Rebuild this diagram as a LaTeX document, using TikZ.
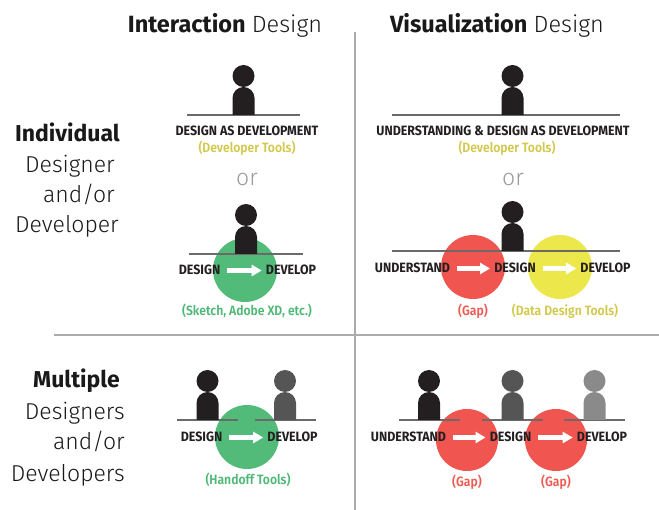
\documentclass[tikz,border=0pt]{standalone}
\usepackage{fontspec}
\setmainfont{Fira Sans}
\newfontfamily\lightfont{Fira Sans Light}
\newfontfamily\labelfont[FakeStretch=0.92]{Fira Sans Bold}
\newfontfamily\notefont[FakeStretch=0.9]{Fira Sans SemiBold}
\usetikzlibrary{arrows.meta,calc}
\definecolor{ink}{HTML}{231F20}
\definecolor{midperson}{HTML}{555555}
\definecolor{lightperson}{HTML}{8A8A8A}
\definecolor{baseline}{HTML}{6A6A6A}
\definecolor{divider}{HTML}{ABABAB}
\definecolor{ggreen}{HTML}{52BB7A}
\definecolor{gred}{HTML}{F0554F}
\definecolor{gyellow}{HTML}{ECE84C}
\definecolor{tyellow}{HTML}{D2C84A}
\definecolor{tgreen}{HTML}{4FB877}
\definecolor{tred}{HTML}{EF5A52}
\definecolor{orgray}{HTML}{9A9A9A}
\tikzset{
  heading/.style={anchor=base,inner sep=0pt,font=\fontsize{23.5}{28}\selectfont,text=black!90},
  rowbold/.style={anchor=base east,inner sep=0pt,font=\fontsize{23}{28}\selectfont\bfseries,text=black!90},
  rowlight/.style={anchor=base east,inner sep=0pt,font=\fontsize{23}{28}\selectfont\lightfont,text=black!90},
  steplabel/.style={anchor=base,inner sep=0pt,font=\fontsize{13.5}{16}\selectfont\labelfont,text=ink},
  toolnote/.style={anchor=base,inner sep=0pt,font=\fontsize{13.5}{16}\selectfont\notefont},
  ortext/.style={anchor=base,inner sep=0pt,font=\fontsize{23}{28}\selectfont\lightfont,text=orgray},
  blob/.style={fill=#1,draw=none},
  groundline/.style={draw=baseline,line width=2pt},
  flowarrow/.style={white,line width=5pt,-{Triangle[length=10pt,width=11pt]}},
  dividerline/.style={draw=divider,line width=1.5pt}
}
\newcommand{\personat}[3]{% x, line y, colour
  \fill[#3] (#1-11,#2) -- (#1-11,#2-17) arc (180:360:11) -- (#1+11,#2) -- cycle;
  \fill[#3] (#1,#2-39) circle (11);
}
\begin{document}
\begin{tikzpicture}[x=1pt,y=-1pt]
\useasboundingbox (0,0) rectangle (659,510);
% dividers
\draw[dividerline] (355,32) -- (355,510);
\draw[dividerline] (54,335) -- (659,335);
% headings
\node[heading] (hint) at (225,33) {\textbf{Interaction} {\lightfont Design}};
\node[heading] (hvis) at (497,33) {\textbf{Visualization} {\lightfont Design}};
% row labels
\node[rowbold] (r1a) at (120,142) {Individual};
\node[rowlight] (r1b) at (115,173) {Designer};
\node[rowlight] (r1c) at (115,203) {and/or};
\node[rowlight] (r1d) at (119,233) {Developer};
\node[rowbold] (r2a) at (120,388) {Multiple};
\node[rowlight] (r2b) at (125,420) {Designers};
\node[rowlight] (r2c) at (125,450) {and/or};
\node[rowlight] (r2d) at (125,482) {Developers};

% ===== Top-left =====
\draw[groundline] (187,115) -- (300,115);
\personat{243.5}{115}{ink}
\node[steplabel] (tl1) at (247,136) {DESIGN AS DEVELOPMENT};
\node[toolnote,text=tyellow] (tl2) at (247,153) {(Developer Tools)};
\node[ortext] (tlor) at (247,186) {or};

\fill[blob=ggreen] (245,270) circle (32);
\draw[groundline] (189,254) -- (303,254);
\personat{246}{254}{ink}
\node[steplabel] (tld) at (199.5,275) {DESIGN};
\node[steplabel] (tlv) at (291,275) {DEVELOP};
\draw[flowarrow] ($(tld.base east)+(7,-4.5)$) -- ($(tlv.base west)+(-4,-4.5)$);
\node[toolnote,text=tgreen] (tln) at (247,316) {(Sketch, Adobe XD, etc.)};

% ===== Top-right =====
\draw[groundline] (392,115) -- (620,115);
\personat{512.5}{115}{ink}
\node[steplabel] (tr1) at (503,136) {UNDERSTANDING \& DESIGN AS DEVELOPMENT};
\node[toolnote,text=tyellow] (tr2) at (507,153) {(Developer Tools)};
\node[ortext] (tror) at (513,186) {or};

\fill[blob=gred] (473,267) circle (32);
\fill[blob=gyellow] (560,267) circle (32);
\draw[groundline] (392,251) -- (620,251);
\personat{512.5}{251}{ink}
\node[steplabel] (tru) at (412.5,273) {UNDERSTAND};
\node[steplabel] (trd) at (515,273) {DESIGN};
\node[steplabel] (trv) at (605.5,273) {DEVELOP};
\draw[flowarrow] ($(tru.base east)+(7,-4.5)$) -- ($(trd.base west)+(-4,-4.5)$);
\draw[flowarrow] ($(trd.base east)+(7,-4.5)$) -- ($(trv.base west)+(-4,-4.5)$);
\node[toolnote,text=tred] (trg) at (473,316) {(Gap)};
\node[toolnote,text=tyellow] (trt) at (565,316) {(Data Design Tools)};

% ===== Bottom-left =====
\fill[blob=ggreen] (247,437) circle (32);
\draw[groundline] (177,420) -- (238,420);
\draw[groundline] (255,420) -- (316,420);
\personat{207.5}{420}{ink}
\personat{285}{420}{midperson}
\node[steplabel] (bld) at (201.5,442) {DESIGN};
\node[steplabel] (blv) at (292.5,442) {DEVELOP};
\draw[flowarrow] ($(bld.base east)+(7,-4.5)$) -- ($(blv.base west)+(-4,-4.5)$);
\node[toolnote,text=tgreen] (bln) at (248,485) {(Handoff Tools)};

% ===== Bottom-right =====
\fill[blob=gred] (467,440) circle (31);
\fill[blob=gred] (556,440) circle (31);
\draw[groundline] (399,420) -- (460,420);
\draw[groundline] (482,420) -- (543,420);
\draw[groundline] (564,420) -- (625,420);
\personat{429}{420}{ink}
\personat{512.5}{420}{midperson}
\personat{594.5}{420}{lightperson}
\node[steplabel] (bru) at (408.5,442) {UNDERSTAND};
\node[steplabel] (brd) at (510.5,442) {DESIGN};
\node[steplabel] (brv) at (602,442) {DEVELOP};
\draw[flowarrow] ($(bru.base east)+(7,-4.5)$) -- ($(brd.base west)+(-4,-4.5)$);
\draw[flowarrow] ($(brd.base east)+(7,-4.5)$) -- ($(brv.base west)+(-4,-4.5)$);
\node[toolnote,text=tred] (brg1) at (467,486) {(Gap)};
\node[toolnote,text=tred] (brg2) at (556,486) {(Gap)};
\end{tikzpicture}
\end{document}
